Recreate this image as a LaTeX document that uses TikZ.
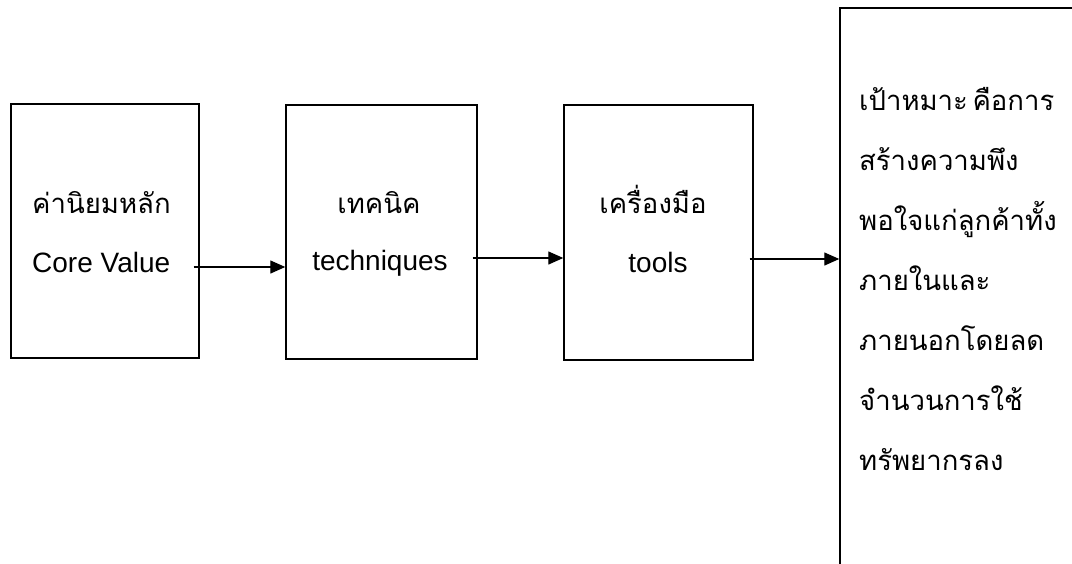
\documentclass[tikz,border=0pt]{standalone}
\usepackage{fontspec}
\setmainfont{Liberation Sans}
\newfontfamily\thaifont[Script=Thai]{Loma}
\usetikzlibrary{arrows.meta}
\begin{document}
\begin{tikzpicture}[x=1pt,y=-1pt,
  boxnode/.style={draw, line width=1.4pt, inner sep=0pt},
  thaitxt/.style={inner sep=0pt, font=\thaifont\fontsize{27.5}{32}\selectfont},
  entxt/.style={inner sep=0pt, font=\fontsize{28}{32}\selectfont},
  arr/.style={line width=1.3pt, -{Triangle[length=15pt,width=13pt]}}]
\useasboundingbox (0,0) rectangle (1072,563);
\clip (0,0) rectangle (1072,563);
\node[boxnode, minimum width=188pt, minimum height=254pt] (b1) at (105,231) {};
\node[boxnode, minimum width=191pt, minimum height=254pt] (b2) at (381.5,232) {};
\node[boxnode, minimum width=189pt, minimum height=255pt] (b3) at (658.5,232.5) {};
\node[boxnode, minimum width=300pt, minimum height=640pt] (b4) at (990,328) {};
\node[thaitxt, anchor=base west] (t1) at (32,213) {ค่านิยมหลัก};
\node[entxt, anchor=base west] (e1) at (32,272) {Core Value};
\node[thaitxt, anchor=base] (t2) at (379,213) {เทคนิค};
\node[entxt, anchor=base] (e2) at (380,270) {techniques};
\node[thaitxt, anchor=base] (t3) at (653,213) {เครื่องมือ};
\node[entxt, anchor=base] (e3) at (658,272) {tools};
\node[thaitxt, anchor=base west] (l1) at (859,110) {เป้าหมาะ\,คือการ};
\node[thaitxt, anchor=base west] (l2) at (859,170) {สร้างความพึง};
\node[thaitxt, anchor=base west] (l3) at (859,230) {พอใจแก่ลูกค้าทั้ง};
\node[thaitxt, anchor=base west] (l4) at (859,290) {ภายในและ};
\node[thaitxt, anchor=base west] (l5) at (859,350) {ภายนอกโดยลด};
\node[thaitxt, anchor=base west] (l6) at (859,410) {จำนวนการใช้};
\node[thaitxt, anchor=base west] (l7) at (859,470) {ทรัพยากรลง};
\draw[arr] ([xshift=-6pt,yshift=-36pt]b1.east) coordinate (s1) -- (s1 -| b2.west);
\draw[arr] ([xshift=-5pt,yshift=-26pt]b2.east) coordinate (s2) -- (s2 -| b3.west);
\draw[arr] ([xshift=-4pt,yshift=-26.5pt]b3.east) coordinate (s3) -- (s3 -| b4.west);
\end{tikzpicture}
\end{document}
